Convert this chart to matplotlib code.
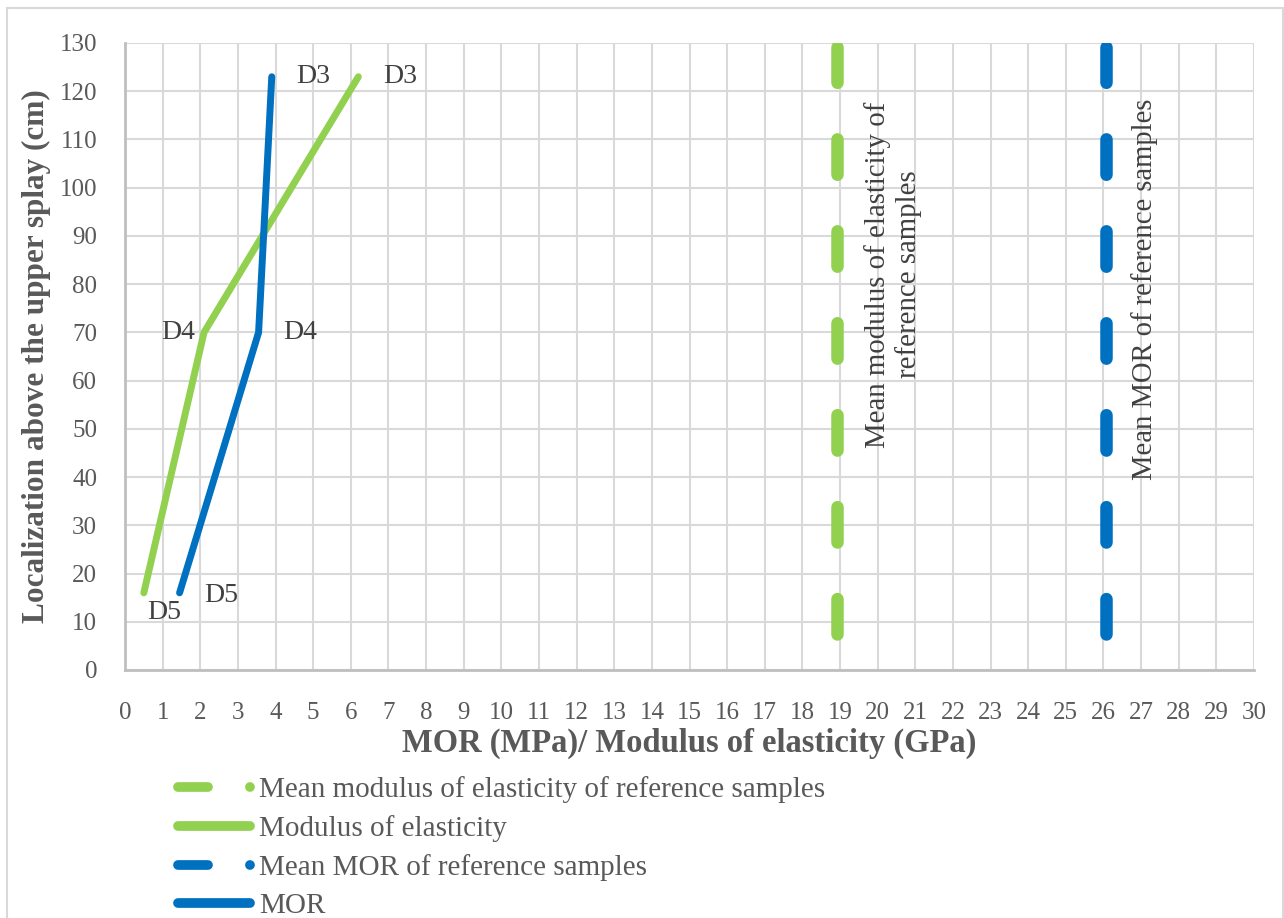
import matplotlib
matplotlib.use('Agg')
import matplotlib.pyplot as plt
from matplotlib.lines import Line2D
from matplotlib.patches import Rectangle

plt.rcParams['font.family'] = ['Liberation Serif', 'DejaVu Serif']
plt.rcParams['lines.scale_dashes'] = False

# data
moe_x = [0.5, 2.1, 6.2]
mor_x = [1.45, 3.55, 3.9]
pos_y = [16, 70, 123]
point_labels = ['D5', 'D4', 'D3']
mean_moe = 18.93
mean_mor = 26.07
mean_y = [7.5, 135]

GREEN = '#92D050'
BLUE = '#0070C0'
TXT = '#595959'
DARK = '#404040'

fig = plt.figure(figsize=(12.84, 9.18), dpi=100)
ax = fig.add_axes([125/1284, 1 - 670/918, 1129/1284, 627/918])

ax.set_xlim(0, 30)
ax.set_ylim(0, 130)
ax.set_xticks(range(0, 31))
ax.set_yticks(range(0, 131, 10))
ax.grid(True, color='#D9D9D9', lw=1.5)
ax.set_axisbelow(True)
for s in ['top', 'right']:
    ax.spines[s].set_visible(False)
for s in ['left', 'bottom']:
    ax.spines[s].set_color('#BFBFBF')
    ax.spines[s].set_linewidth(2)
ax.tick_params(length=0, labelsize=18, labelcolor=TXT)
ax.tick_params(axis='x', pad=23)
ax.tick_params(axis='y', pad=20)

# mean lines
dash = (0, (25.5, 40.7))
ax.plot([mean_moe, mean_moe], mean_y, color=GREEN, lw=9, linestyle=dash,
        dash_capstyle='round')
ax.plot([mean_mor, mean_mor], mean_y, color=BLUE, lw=9, linestyle=dash,
        dash_capstyle='round')

ax.plot(moe_x, pos_y, color=GREEN, lw=5, solid_capstyle='round', solid_joinstyle='miter')
ax.plot(mor_x, pos_y, color=BLUE, lw=5, solid_capstyle='round', solid_joinstyle='miter')

# point labels
kw = dict(fontsize=20, color=DARK, va='center')
ax.text(moe_x[0] + 0.1, pos_y[0] - 4, point_labels[0], ha='left', **kw)
ax.text(mor_x[0] + 0.65, pos_y[0] - 0.5, point_labels[0], ha='left', **kw)
ax.text(moe_x[1] - 0.25, pos_y[1], point_labels[1], ha='right', **kw)
ax.text(mor_x[1] + 0.65, pos_y[1], point_labels[1], ha='left', **kw)
ax.text(moe_x[2] + 0.65, pos_y[2], point_labels[2], ha='left', **kw)
ax.text(mor_x[2] + 0.65, pos_y[2], point_labels[2], ha='left', **kw)

ax.text(20.4, 82, 'Mean modulus of elasticity of\nreference samples', rotation=90,
        ha='center', va='center', multialignment='center', fontsize=20.8, color=DARK,
        linespacing=1.2)
ax.text(27.1, 79, 'Mean MOR of reference samples', rotation=90,
        ha='center', va='center', fontsize=20.6, color=DARK)

ax.set_xlabel('MOR (MPa)/ Modulus of elasticity (GPa)', fontsize=23.5, fontweight='bold',
              color=TXT, labelpad=3)
ax.set_ylabel('Localization above the upper splay (cm)', fontsize=22.5, fontweight='bold',
              color=TXT, labelpad=6)

# legend
h1 = Line2D([], [], color=GREEN, lw=7, linestyle=(0, (21.6, 30.2, 0.1, 30)),
            dash_capstyle='round')
h2 = Line2D([], [], color=GREEN, lw=7, solid_capstyle='round')
h3 = Line2D([], [], color=BLUE, lw=7, linestyle=(0, (21.6, 30.2, 0.1, 30)),
            dash_capstyle='round')
h4 = Line2D([], [], color=BLUE, lw=7, solid_capstyle='round')
leg = fig.legend([h1, h2, h3, h4],
                 ['Mean modulus of elasticity of reference samples', 'Modulus of elasticity',
                  'Mean MOR of reference samples', 'MOR'],
                 loc='upper left', bbox_to_anchor=(178/1284, 1 - 776/918),
                 frameon=False, fontsize=21, handlelength=2.47, handletextpad=0.31,
                 labelspacing=0.41, borderpad=0, borderaxespad=0)
for t in leg.get_texts():
    t.set_color(TXT)

fig.patches.append(Rectangle((7/1284, -0.01), 1276/1284, 1 - 8/918 + 0.01,
                             transform=fig.transFigure, fill=False,
                             edgecolor='#D9D9D9', lw=1.5))

fig.savefig('out.png', dpi=100)
